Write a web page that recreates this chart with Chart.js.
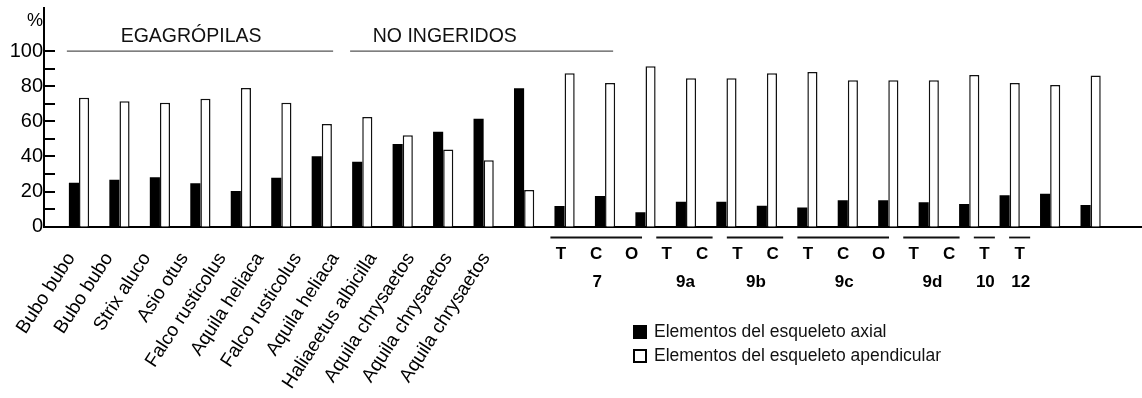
<!DOCTYPE html>
<html>
<head>
<meta charset="utf-8">
<script src="https://cdn.jsdelivr.net/npm/chart.js@4/dist/chart.umd.min.js"></script>
<style>
  html, body { margin: 0; padding: 0; background: #fff; }
  canvas { display: block; }
</style>
</head>
<body>
<canvas id="chart" width="1142" height="398"></canvas>
<script>
// Species whose remains were analysed (pellets and non-ingested remains)
const species = [
  'Bubo bubo', 'Bubo bubo', 'Strix aluco', 'Asio otus', 'Falco rusticolus',
  'Aquila heliaca', 'Falco rusticolus', 'Aquila heliaca', 'Haliaeetus albicilla',
  'Aquila chrysaetos', 'Aquila chrysaetos', 'Aquila chrysaetos'
];
// Site samples: level letters, grouped by site
const siteParts = ['T', 'C', 'O', 'T', 'C', 'T', 'C', 'T', 'C', 'O', 'T', 'C', 'T', 'T'];
const siteNames = ['7', '9a', '9b', '9c', '9d', '10', '12'];
const siteSizes = [3, 2, 2, 3, 2, 1, 1];
const categories = species.concat(siteParts);

// Percentages of skeletal elements
const axial = [
  25.0, 26.7, 28.1, 24.7, 20.3, 27.9, 40.1, 37.0, 47.1, 54.1, 61.5, 78.8,
  11.8, 17.5, 8.2, 14.2, 14.2, 11.9, 11.0, 15.0, 15.0, 13.9, 12.9, 17.9, 18.8, 12.4
];
const appendicular = [
  73.4, 71.4, 70.6, 72.9, 78.9, 70.6, 58.5, 62.4, 52.0, 44.0, 37.8, 20.9,
  87.3, 81.8, 91.3, 84.5, 84.5, 87.3, 88.0, 83.3, 83.3, 83.3, 86.3, 81.8, 80.6, 86.1
];

const yTicks = [0, 10, 20, 30, 40, 50, 60, 70, 80, 90, 100];
const sectionTitles = ['EGAGRÓPILAS', 'NO INGERIDOS'];
const seriesNames = ['Elementos del esqueleto axial', 'Elementos del esqueleto apendicular'];

const FONT = '"Liberation Sans", Arial, Helvetica, sans-serif';

// Section headers over the species bars (spans in x-axis units)
const sectionSpans = [[-0.30, 6.28], [6.70, 13.20]];
const sectionTextAt = [2.77, 9.04];

// Label rows under the axis (x-axis units)
const speciesLabelStart = -0.193, speciesLabelPitch = 0.932;
const siteLabelStart = 11.91, siteLabelPitch = 0.872;

const annotations = {
  id: 'annotations',
  afterDraw(chart) {
    const ctx = chart.ctx;
    const x = chart.scales.x, y = chart.scales.y;
    const area = chart.chartArea;
    ctx.save();

    // inward tick marks on the value axis
    ctx.strokeStyle = '#000';
    ctx.lineWidth = 2;
    yTicks.forEach(v => {
      const py = Math.round(y.getPixelForValue(v));
      ctx.beginPath();
      ctx.moveTo(area.left, py);
      ctx.lineTo(area.left + 11, py);
      ctx.stroke();
    });

    // unit symbol
    ctx.fillStyle = '#000';
    ctx.font = '18px ' + FONT;
    ctx.textAlign = 'center';
    ctx.textBaseline = 'middle';
    ctx.fillText('%', area.left - 9, 21);

    // section headers
    const headY = y.getPixelForValue(100);
    ctx.strokeStyle = '#555';
    ctx.lineWidth = 1.2;
    ctx.font = '19.5px ' + FONT;
    sectionTitles.forEach((t, k) => {
      ctx.beginPath();
      ctx.moveTo(x.getPixelForValue(sectionSpans[k][0]), headY);
      ctx.lineTo(x.getPixelForValue(sectionSpans[k][1]), headY);
      ctx.stroke();
      ctx.fillStyle = '#111';
      ctx.fillText(t, x.getPixelForValue(sectionTextAt[k]), 36.5);
    });

    // rotated species names
    ctx.fillStyle = '#000';
    ctx.font = '19px ' + FONT;
    ctx.textAlign = 'right';
    ctx.textBaseline = 'middle';
    species.forEach((name, i) => {
      const px = x.getPixelForValue(speciesLabelStart + speciesLabelPitch * i);
      ctx.save();
      ctx.translate(px, 254.8);
      ctx.rotate(-57 * Math.PI / 180);
      ctx.fillText(name, 0, 0);
      ctx.restore();
    });

    // site levels, grouping lines and site names
    ctx.font = 'bold 17px ' + FONT;
    ctx.textAlign = 'center';
    ctx.strokeStyle = '#111';
    ctx.lineWidth = 1.8;
    const half = 0.26;
    let k = 0;
    siteNames.forEach((site, g) => {
      const first = k, last = k + siteSizes[g] - 1;
      const vFirst = siteLabelStart + siteLabelPitch * first;
      const vLast = siteLabelStart + siteLabelPitch * last;
      for (let j = first; j <= last; j++) {
        const px = x.getPixelForValue(siteLabelStart + siteLabelPitch * j);
        ctx.fillText(siteParts[j], px, 254);
      }
      const x0 = x.getPixelForValue(vFirst - half);
      const x1 = x.getPixelForValue(vLast + half);
      ctx.beginPath();
      ctx.moveTo(x0, 237.5);
      ctx.lineTo(x1, 237.5);
      ctx.stroke();
      ctx.fillText(site, (x0 + x1) / 2 + 1, 282);
      k = last + 1;
    });

    // legend
    ctx.font = '17.5px ' + FONT;
    ctx.textAlign = 'left';
    ctx.textBaseline = 'middle';
    chart.data.datasets.forEach((ds, d) => {
      const top = 325 + d * 24;
      if (d === 0) {
        ctx.fillStyle = '#000';
        ctx.fillRect(633, top, 14, 14);
      } else {
        ctx.fillStyle = '#fff';
        ctx.fillRect(633, top, 14, 14);
        ctx.strokeStyle = '#000';
        ctx.lineWidth = 2;
        ctx.strokeRect(634, top + 1, 12, 12);
      }
      ctx.fillStyle = '#111';
      ctx.fillText(ds.label, 654, top + 7.5);
    });

    ctx.restore();
  }
};

new Chart(document.getElementById('chart'), {
  type: 'bar',
  data: {
    datasets: [
      {
        label: seriesNames[0],
        data: axial.map((v, i) => ({ x: i, y: v })),
        backgroundColor: '#000',
        borderWidth: 0
      },
      {
        label: seriesNames[1],
        data: appendicular.map((v, i) => ({ x: i, y: v })),
        backgroundColor: '#fff',
        borderColor: '#111',
        borderWidth: 1.5
      }
    ]
  },
  options: {
    responsive: false,
    animation: false,
    events: [],
    layout: { padding: { top: 8, bottom: 171.3, left: 0, right: 0 } },
    datasets: { bar: { categoryPercentage: 0.5, barPercentage: 1 } },
    plugins: {
      legend: { display: false },
      tooltip: { enabled: false }
    },
    scales: {
      x: {
        type: 'linear',
        offset: false,
        min: -0.865,
        max: 26.27,
        afterBuildTicks: s => { s.ticks = categories.map((c, i) => ({ value: i })); },
        afterFit: s => { s.paddingLeft = 0; s.paddingRight = 0; },
        ticks: { display: false },
        grid: { display: false, drawTicks: false },
        border: { display: true, color: '#000', width: 2 }
      },
      y: {
        min: 0,
        max: 124.5,
        afterBuildTicks: s => { s.ticks = yTicks.map(v => ({ value: v })); },
        afterFit: s => { s.width = 44; s.paddingTop = 0; s.paddingBottom = 0; },
        ticks: {
          padding: 1,
          color: '#000',
          font: { family: FONT, size: 20 },
          callback: v => (v % 20 === 0 ? String(v) : '')
        },
        grid: { display: false, drawTicks: false },
        border: { display: true, color: '#000', width: 2 }
      }
    }
  },
  plugins: [annotations]
});
</script>
</body>
</html>
